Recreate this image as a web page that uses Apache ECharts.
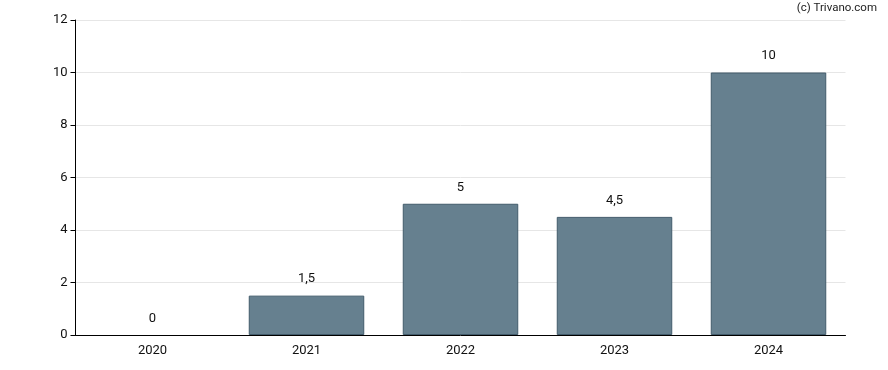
<!DOCTYPE html>
<html><head><meta charset="utf-8">
<script src="https://cdn.jsdelivr.net/npm/echarts@6/dist/echarts.min.js"></script>
<style>html,body{margin:0;padding:0;background:#fff}#c{width:888px;height:370px}</style>
</head><body><div id="c"></div>
<script>
const categories = ['2020','2021','2022','2023','2024'];
const values = [0, 1.5, 5, 4.5, 10];
const yTicks = [0, 2, 4, 6, 8, 10, 12];

const chart = echarts.init(document.getElementById('c'), null, {renderer:'canvas'});
chart.setOption({
  animation:false,
  backgroundColor:'#fff',
  textStyle:{fontFamily:'Roboto'},
  graphic:[{type:'text', right:11, top:2, style:{text:'(c) Trivano.com', font:'11.5px Roboto', fill:'#222'}}],
  grid:{left:75.5, right:42.5, top:20, bottom:35, containLabel:false},
  xAxis:{type:'category', data:categories,
    axisLine:{lineStyle:{color:'#000', width:1}},
    axisTick:{alignWithLabel:true, length:5, lineStyle:{color:'#000'}},
    axisLabel:{color:'#111', fontSize:13, margin:9, fontFamily:'Roboto'}},
  yAxis:{type:'value', min:yTicks[0], max:yTicks[yTicks.length-1], interval:2,
    axisLine:{show:true, lineStyle:{color:'#000', width:1}},
    axisTick:{show:true, length:5, lineStyle:{color:'#000'}},
    splitLine:{lineStyle:{color:'#e6e6e6'}},
    axisLabel:{color:'#111', fontSize:13, margin:8, fontFamily:'Roboto'}},
  series:[{type:'bar',
    data:values.map(v => v === 0 ? {value:v, itemStyle:{borderWidth:0}} : v),
    barCategoryGap:'25%',
    itemStyle:{color:'#66808f', borderColor:'#425b6b', borderWidth:1},
    label:{show:true, position:'top', distance:10, color:'#111', fontSize:13, fontFamily:'Roboto',
      formatter:p=>String(p.value).replace('.',',')}}]
});
</script></body></html>
